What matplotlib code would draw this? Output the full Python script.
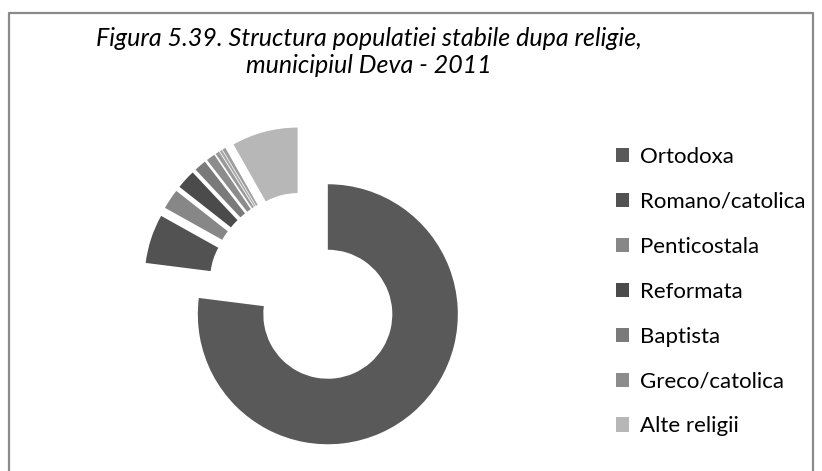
import matplotlib.pyplot as plt
from matplotlib.patches import Patch
from matplotlib.lines import Line2D

# religion shares (%); the three tiny slices are not in the legend
categories = ["Ortodoxa", "Romano/catolica", "Penticostala", "Reformata",
              "Baptista", "Greco/catolica", "Mica 1", "Mica 2", "Mica 3",
              "Alte religii"]
shares = [77.0, 6.1, 2.5, 2.4, 1.5, 1.1, 0.5, 0.3, 0.4, 8.2]
colors = ["#595959", "#525252", "#878787", "#4b4b4b", "#7a7a7a", "#8c8c8c",
          "#9a9a9a", "#a8a8a8", "#9d9d9d", "#b7b7b7"]
legend_names = ["Ortodoxa", "Romano/catolica", "Penticostala", "Reformata",
                "Baptista", "Greco/catolica", "Alte religii"]

title = "Figura 5.39. Structura populatiei stabile dupa religie,\nmunicipiul Deva - 2011"

W, H = 822, 471
fig = plt.figure(figsize=(W / 100, H / 100), dpi=100)
ax = fig.add_axes([0, 0, 1, 1])

R = 130
ax.pie(shares, colors=colors, startangle=90, counterclock=False,
       center=(306, H - 289.5), radius=R, explode=[33] * len(shares),
       wedgeprops=dict(width=65.5, linewidth=0))

# pie() resets the limits, so set them afterwards
ax.set_xlim(0, W)
ax.set_ylim(0, H)
ax.set_aspect("equal")
ax.axis("off")

# outer frame
ax.add_line(Line2D([8.5, 8.5, 813, 813], [0, H - 12.5, H - 12.5, 0],
                   color="#8a8a8a", lw=1.6))

fig.text(369 / W, 1 - 52 / H, title, ha="center", va="center",
         fontsize=18, style="italic", family="Lato", linespacing=1.25)

handles = [Patch(facecolor=colors[categories.index(n)], edgecolor="none")
           for n in legend_names]
leg = ax.legend(handles, legend_names, loc="upper left",
                bbox_to_anchor=(616 / W, 1 - 147 / H), frameon=False,
                prop=dict(family="Lato", size=16), handlelength=0.6,
                handleheight=0.6, handletextpad=0.5, labelspacing=1.12,
                borderpad=0, borderaxespad=0)

fig.savefig("out.png", dpi=100)
